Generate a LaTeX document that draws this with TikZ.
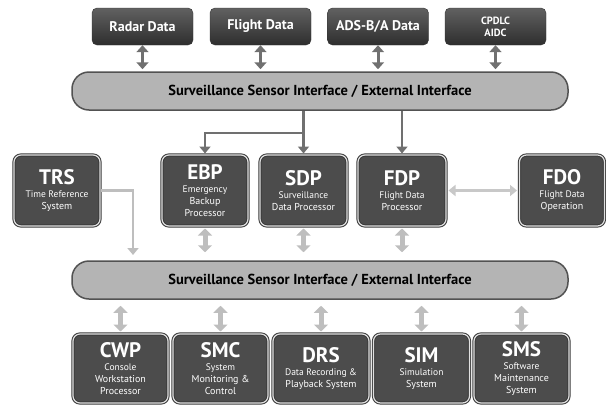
\documentclass[tikz,border=0pt]{standalone}
\usepackage{fontspec}
\setmainfont{PT Sans}
\usepackage{xcolor}
\usetikzlibrary{arrows.meta}
\definecolor{boxdark}{RGB}{76,76,76}
\definecolor{boxedge}{RGB}{58,58,58}
\definecolor{busgray}{RGB}{180,180,180}
\definecolor{linkdark}{RGB}{112,112,112}
\definecolor{linklight}{RGB}{190,190,190}

\newcommand{\sysname}[2]{\fontsize{21}{22}\selectfont\bfseries #1\\[1pt]\fontsize{9.5}{12}\selectfont\mdseries #2}

\begin{document}
\begin{tikzpicture}[x=1pt,y=-1pt,
    extbox/.style={rounded corners=5pt, top color=black!62, bottom color=black!82,
        draw=black!80, minimum width=101pt, minimum height=37pt, text=white,
        font=\fontsize{14}{15}\selectfont\bfseries, align=center},
    bus/.style={rounded corners=17pt, fill=busgray, draw=black!68, line width=1.5pt,
        minimum width=496pt, minimum height=38pt, font=\fontsize{14.5}{15}\selectfont\bfseries},
    sysbox/.style={rounded corners=7pt, fill=boxdark, draw=boxedge, line width=1pt,
        double=white!88!black, double distance=1.2pt, minimum height=#1,
        text=white, align=center, inner sep=1pt},
    darkarrow/.style={draw=linkdark, line width=3pt,
        {Triangle[width=12pt,length=7pt]}-{Triangle[width=12pt,length=7pt]}},
    lightarrow/.style={draw=linklight, line width=5pt,
        {Triangle[width=14pt,length=7pt]}-{Triangle[width=14pt,length=7pt]}},
    feed/.style={draw=linkdark, line width=2.2pt, -{Triangle[width=11pt,length=7pt]}}]

  \useasboundingbox (0,0) rectangle (606,405);

  % external sources
  \node[extbox] (radar)  at (142.5,26.5) {Radar Data};
  \node[extbox] (flight) at (260.5,26.5) {Flight Data};
  \node[extbox] (adsb)   at (378,26.5)   {ADS-B/A Data};
  \node[extbox, font=\fontsize{10.5}{12}\selectfont\bfseries] (cpdlc) at (495.5,26.5) {CPDLC\\AIDC};

  \node[bus] (extbus) at (320,91)  {Surveillance Sensor Interface / External Interface};
  \node[bus] (intbus) at (320,280) {Surveillance Sensor Interface / External Interface};

  % processors
  \node[sysbox=71pt, minimum width=86pt] (trs) at (57,190.5)   {\sysname{TRS}{Time Reference\\System}};
  \node[sysbox=71pt, minimum width=86pt] (ebp) at (205,190.5)  {\sysname{EBP}{Emergency\\Backup\\Processor}};
  \node[sysbox=71pt, minimum width=87pt] (sdp) at (303.5,190.5) {\sysname{SDP}{Surveillance\\Data Processor}};
  \node[sysbox=71pt, minimum width=88pt] (fdp) at (402,190.5)  {\sysname{FDP}{Flight Data\\Processor}};
  \node[sysbox=71pt, minimum width=85pt] (fdo) at (562,190.5)  {\sysname{FDO}{Flight Data\\Operation}};

  % positions
  \node[sysbox=69pt, minimum width=95pt] (cwp) at (120.5,368.5) {\sysname{CWP}{Console\\Workstation\\Processor}};
  \node[sysbox=69pt, minimum width=95pt] (smc) at (220.5,368.5) {\sysname{SMC}{System\\Monitoring \&\\Control}};
  \node[sysbox=69pt, minimum width=96pt] (drs) at (321,368.5)   {\sysname{DRS}{Data Recording \&\\Playback System}};
  \node[sysbox=69pt, minimum width=96pt] (sim) at (421.5,368.5) {\sysname{SIM}{Simulation\\System}};
  \node[sysbox=69pt, minimum width=95pt] (sms) at (521.5,368.5) {\sysname{SMS}{Software\\Maintenance\\System}};

  \foreach \n in {radar,flight,adsb,cpdlc}
    \draw[darkarrow, shorten >=2pt] (\n.south) -- (\n.south |- extbus.north);

  \coordinate (split) at (303.5,133);
  \draw[feed, shorten >=1pt] (extbus.south -| sdp.north) -- (sdp.north);
  \draw[feed, shorten >=1pt] (split) -| (ebp.north);
  \draw[feed, shorten >=1pt] (extbus.south -| fdp.north) -- (fdp.north);

  \foreach \n in {ebp,sdp,fdp}
    \draw[lightarrow, shorten <=2pt, shorten >=8pt] (\n.south) -- (\n.south |- intbus.north);

  \coordinate (trsdrop) at (133,261);
  \draw[draw=linklight, line width=2.5pt, -{Triangle[width=11pt,length=7pt]}, shorten >=6pt] (trs.east) -| (trsdrop);
  \draw[draw=linklight!85, line width=3pt,
        {Triangle[width=11pt,length=7pt]}-{Triangle[width=11pt,length=7pt]}, shorten <=2pt, shorten >=2pt] (fdp.east) -- (fdo.west);

  \foreach \n in {cwp,smc,drs,sim,sms}
    \draw[lightarrow, shorten <=6pt, shorten >=2pt] (\n.north |- intbus.south) -- (\n.north);
\end{tikzpicture}
\end{document}
